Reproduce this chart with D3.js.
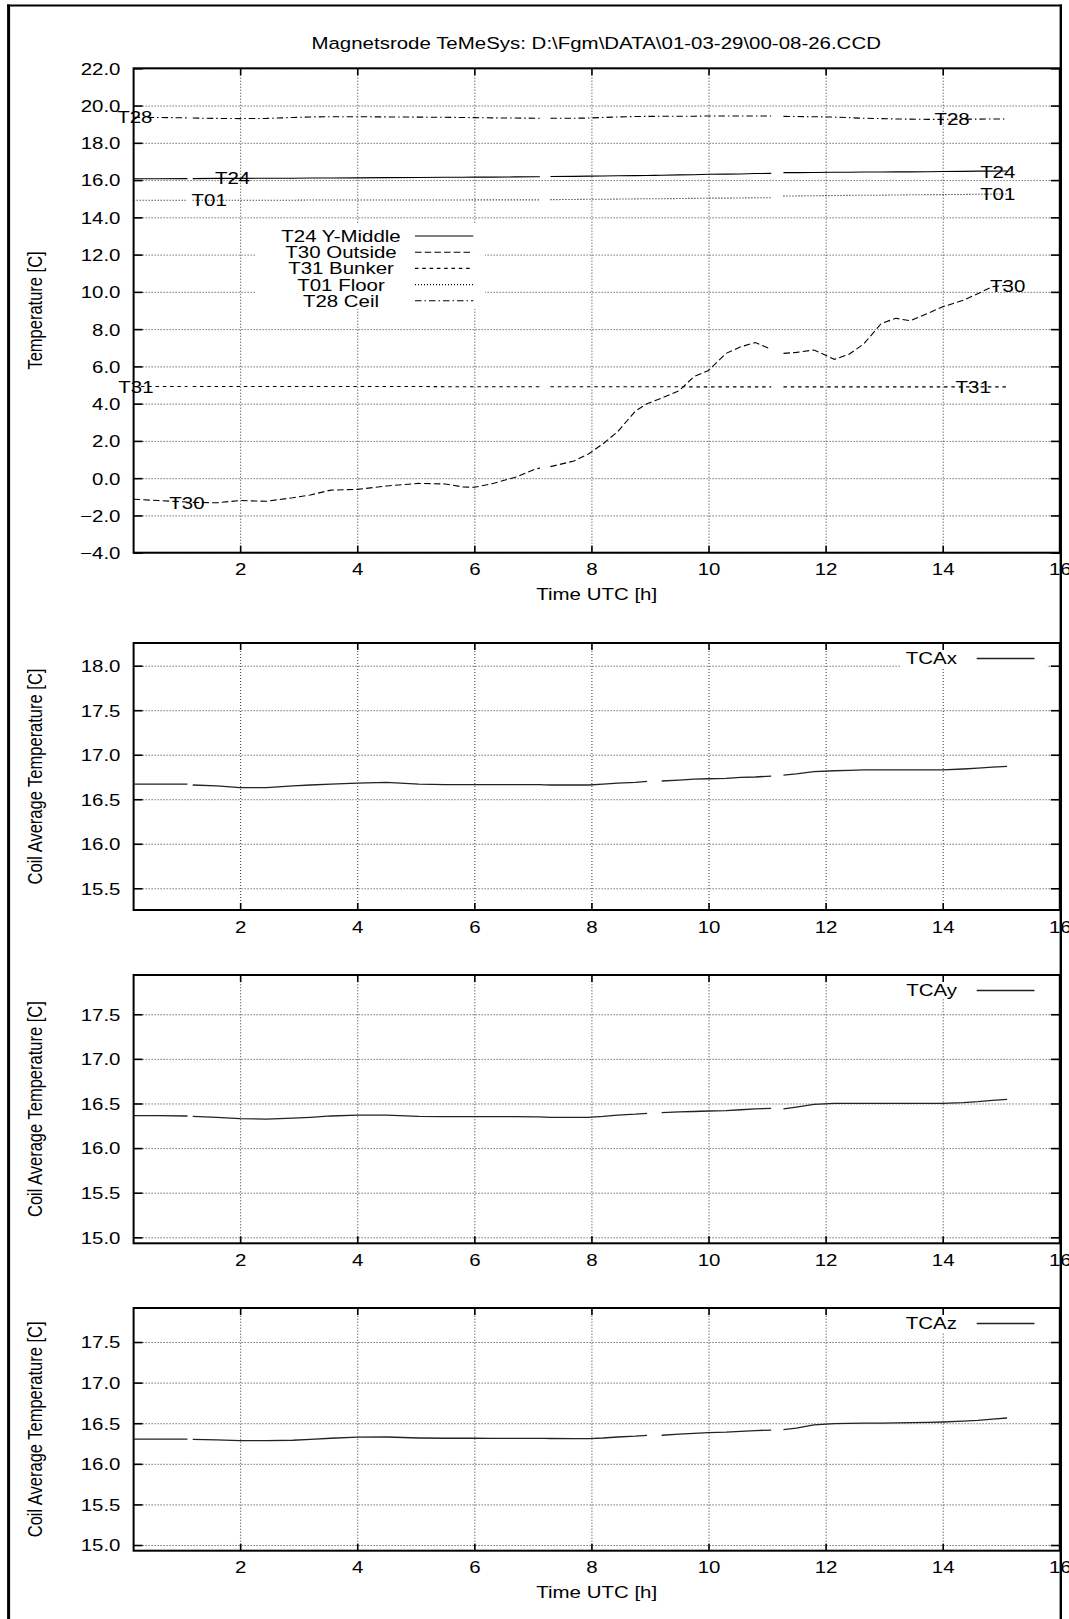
<!DOCTYPE html>
<html><head><meta charset="utf-8">
<script src="https://cdn.jsdelivr.net/npm/d3@7"></script>
<style>
html,body{margin:0;padding:0;background:#fff;}
svg{display:block;}
text{font-family:"Liberation Sans",Arial,Helvetica,sans-serif;font-size:16.5px;fill:#000;}
</style></head><body>
<svg id="chart" width="1069" height="1619"></svg>
<script>
// ---------------- data ----------------
const title = "Magnetsrode TeMeSys: D:\\Fgm\\DATA\\01-03-29\\00-08-26.CCD";
const xLabel = "Time UTC [h]";
const tempLabel = "Temperature [C]";
const coilLabel = "Coil Average Temperature [C]";

const hours = [0.18,0.6,1.1,1.15,1.19,1.6,2.0,2.45,2.9,3.2,3.55,4.0,4.5,5.05,5.5,5.8,6.0,6.3,6.7,7.05,7.12,7.2,7.3,7.7,7.95,8.2,8.45,8.75,8.95,9.08,9.2,9.5,9.75,10.0,10.3,10.55,10.8,11.07,11.18,11.28,11.5,11.8,12.15,12.4,12.65,12.95,13.2,13.45,13.75,14.0,14.35,14.6,14.85,15.1];

const T24 = [16.07,16.07,16.08,null,16.08,16.09,16.09,16.10,16.10,16.11,16.11,16.12,16.13,16.14,16.15,16.15,16.16,16.16,16.17,16.18,16.18,null,16.19,16.20,16.21,16.22,16.23,16.24,16.25,16.255,16.26,16.28,16.29,16.31,16.32,16.33,16.35,16.36,null,16.40,16.40,16.41,16.42,16.42,16.43,16.43,16.44,16.44,16.45,16.46,16.47,16.48,16.48,16.49];
const T30 = [-1.13,-1.20,-1.28,null,-1.30,-1.32,-1.20,-1.24,-1.05,-0.90,-0.64,-0.60,-0.42,-0.28,-0.31,-0.47,-0.49,-0.30,0.05,0.50,0.54,null,0.62,0.92,1.30,1.85,2.50,3.60,4.00,4.15,4.30,4.70,5.45,5.78,6.70,7.05,7.28,6.92,null,6.70,6.75,6.88,6.38,6.65,7.20,8.30,8.58,8.45,8.85,9.20,9.55,9.90,10.28,10.35];
const T31 = [4.92,4.92,4.92,null,4.92,4.92,4.92,4.92,4.92,4.92,4.92,4.92,4.92,4.92,4.91,4.91,4.91,4.91,4.91,4.91,4.91,null,4.91,4.91,4.91,4.91,4.91,4.91,4.91,4.91,4.91,4.91,4.90,4.90,4.90,4.90,4.90,4.90,null,4.90,4.90,4.90,4.90,4.90,4.90,4.90,4.90,4.90,4.90,4.90,4.90,4.90,4.90,4.90];
const T01 = [14.92,14.92,14.92,null,14.92,14.92,14.92,14.92,14.92,14.93,14.93,14.93,14.93,14.93,14.93,14.93,14.94,14.94,14.94,14.94,14.94,null,14.95,14.96,14.97,14.97,14.98,14.99,15.00,15.00,15.00,15.01,15.02,15.03,15.03,15.04,15.05,15.05,null,15.14,15.15,15.16,15.17,15.18,15.19,15.19,15.20,15.21,15.22,15.22,15.23,15.24,15.25,15.25];
const T28 = [19.37,19.36,19.34,null,19.33,19.31,19.30,19.31,19.36,19.39,19.40,19.40,19.39,19.38,19.37,19.36,19.35,19.34,19.33,19.32,19.32,null,19.32,19.32,19.33,19.36,19.39,19.41,19.42,19.42,19.43,19.43,19.43,19.44,19.44,19.44,19.44,19.44,null,19.42,19.41,19.40,19.38,19.35,19.32,19.30,19.28,19.27,19.26,19.26,19.27,19.27,19.28,19.28];

const TCAx = [16.67,16.67,16.67,null,16.66,16.65,16.63,16.63,16.65,16.66,16.67,16.68,16.69,16.67,16.665,16.665,16.665,16.665,16.665,16.665,16.665,16.662,16.66,16.66,16.66,16.67,16.68,16.69,16.70,null,16.705,16.715,16.725,16.73,16.735,16.745,16.75,16.76,null,16.77,16.785,16.81,16.82,16.825,16.83,16.83,16.83,16.83,16.83,16.83,16.84,16.85,16.86,16.87];
const TCAy = [16.363,16.363,16.36,null,16.355,16.345,16.33,16.325,16.335,16.345,16.36,16.37,16.37,16.355,16.352,16.352,16.352,16.352,16.352,16.35,16.35,16.348,16.345,16.345,16.345,16.355,16.37,16.38,16.39,null,16.397,16.405,16.41,16.416,16.42,16.43,16.44,16.446,null,16.44,16.46,16.49,16.502,16.502,16.502,16.502,16.502,16.502,16.502,16.502,16.51,16.52,16.535,16.547];
const TCAz = [16.305,16.305,16.305,null,16.30,16.295,16.285,16.285,16.29,16.30,16.315,16.328,16.33,16.318,16.315,16.315,16.315,16.314,16.314,16.314,16.314,16.313,16.312,16.31,16.31,16.318,16.33,16.34,16.35,null,16.352,16.365,16.375,16.383,16.39,16.40,16.41,16.416,null,16.42,16.44,16.48,16.495,16.498,16.50,16.50,16.505,16.508,16.51,16.515,16.525,16.535,16.55,16.564];

const xTicks = [2,4,6,8,10,12,14,16];
const tempTicks = [-4,-2,0,2,4,6,8,10,12,14,16,18,20,22];
const coilTicksX = [15.5,16.0,16.5,17.0,17.5,18.0];
const coilTicksYZ = [15.0,15.5,16.0,16.5,17.0,17.5];

const tempKeys = ["T24 Y-Middle","T30 Outside","T31 Bunker","T01 Floor","T28 Ceil"];
const lineLabels = [
  {text:"T28", t:0.20, v:19.40}, {text:"T28", t:14.16, v:19.26},
  {text:"T24", t:1.87, v:16.10}, {text:"T24", t:14.94, v:16.45},
  {text:"T01", t:1.47, v:14.93}, {text:"T01", t:14.94, v:15.25},
  {text:"T31", t:0.22, v:4.91},  {text:"T31", t:14.52, v:4.88},
  {text:"T30", t:1.09, v:-1.35}, {text:"T30", t:15.11, v:10.31}
];

// ---------------- drawing ----------------
const SX = 1.24;           // horizontal glyph stretch of the original
const CAP = 5.9;           // half cap height
const svg = d3.select("#chart");
const plotLeft = 133.6, plotRight = 1059.8;
const x = d3.scaleLinear().domain([0.18, 16]).range([plotLeft, plotRight]);

function txt(g, px, py, str, anchor) {
  return g.append("text")
    .attr("transform", `translate(${px},${py}) scale(${SX},1)`)
    .attr("text-anchor", anchor).text(str);
}
function vtxt(g, px, py, str) {
  return g.append("text")
    .attr("transform", `translate(${px},${py}) rotate(-90) scale(1,${SX})`)
    .attr("text-anchor", "middle").text(str);
}

const seriesSets = [
  [
    {name:tempKeys[0], vals:T24, dash:null},
    {name:tempKeys[1], vals:T30, dash:"6.5,3.2"},
    {name:tempKeys[2], vals:T31, dash:"3.5,3.8"},
    {name:tempKeys[3], vals:T01, dash:"1,2"},
    {name:tempKeys[4], vals:T28, dash:"6.5,3,1.5,3"}
  ],
  [{name:"TCAx", vals:TCAx, dash:null}],
  [{name:"TCAy", vals:TCAy, dash:null}],
  [{name:"TCAz", vals:TCAz, dash:null}]
];

const panels = [
  {top:68.3, bottom:552.7, domain:[-4,22], ticks:tempTicks, ylabel:tempLabel, xlabel:true, fmt:d3.format(".1f")},
  {top:643, bottom:910, domain:[15.256,18.255], ticks:coilTicksX, ylabel:coilLabel, xlabel:false, fmt:d3.format(".1f")},
  {top:975, bottom:1243.3, domain:[14.933,17.94], ticks:coilTicksYZ, ylabel:coilLabel, xlabel:false, fmt:d3.format(".1f")},
  {top:1308, bottom:1550.7, domain:[14.93,17.919], ticks:coilTicksYZ, ylabel:coilLabel, xlabel:true, fmt:d3.format(".1f")}
];

const W = plotRight - plotLeft;

panels.forEach((p, pi) => {
  const y = d3.scaleLinear().domain(p.domain).range([p.bottom, p.top]);
  const g = svg.append("g");
  const H = p.bottom - p.top;

  // grid
  const gridStyle = s => { s.select(".domain").remove();
    s.selectAll("line").attr("stroke", "#333").attr("stroke-width", 1).attr("stroke-dasharray", "1,2"); };
  g.append("g").attr("transform", `translate(${plotLeft},0)`)
    .call(d3.axisLeft(y).tickValues(p.ticks).tickSize(-W).tickFormat("")).call(gridStyle);
  g.append("g").attr("transform", `translate(0,${p.bottom})`)
    .call(d3.axisBottom(x).tickValues(xTicks).tickSize(-H).tickFormat("")).call(gridStyle);

  // key background box
  const series = seriesSets[pi];
  if (pi === 0) {
    g.append("rect").attr("x", 255).attr("y", 224).attr("width", 230).attr("height", 85).attr("fill", "#fff");
  } else {
    g.append("rect").attr("x", 900).attr("y", p.top + 1.5).attr("width", 146.7).attr("height", 22.5).attr("fill", "#fff");
  }

  // frame + inward ticks
  g.append("rect").attr("x", plotLeft).attr("y", p.top).attr("width", W).attr("height", H)
    .attr("fill", "none").attr("stroke", "#000").attr("stroke-width", 2);
  const tickStyle = s => { s.select(".domain").remove(); s.selectAll("line").attr("stroke", "#000").attr("stroke-width", 1.6); };
  g.append("g").attr("transform", `translate(${plotLeft},0)`).call(d3.axisLeft(y).tickValues(p.ticks).tickSize(-9).tickFormat("")).call(tickStyle);
  g.append("g").attr("transform", `translate(${plotRight},0)`).call(d3.axisRight(y).tickValues(p.ticks).tickSize(-9).tickFormat("")).call(tickStyle);
  g.append("g").attr("transform", `translate(0,${p.bottom})`).call(d3.axisBottom(x).tickValues(xTicks).tickSize(-7).tickFormat("")).call(tickStyle);
  g.append("g").attr("transform", `translate(0,${p.top})`).call(d3.axisTop(x).tickValues(xTicks).tickSize(-7).tickFormat("")).call(tickStyle);

  // tick labels
  g.append("g").attr("transform", `translate(${plotLeft},0)`)
    .call(d3.axisLeft(y).tickValues(p.ticks).tickSize(0).tickFormat(p.fmt))
    .call(s => { s.select(".domain").remove(); s.selectAll("line").remove();
      s.selectAll("text").attr("x", null).attr("dy", null).attr("text-anchor", "end")
        .attr("transform", `translate(-13.1,${CAP}) scale(${SX},1)`); });
  g.append("g").attr("transform", `translate(0,${p.bottom})`)
    .call(d3.axisBottom(x).tickValues(xTicks).tickSize(0).tickFormat(d3.format("d")))
    .call(s => { s.select(".domain").remove(); s.selectAll("line").remove();
      s.selectAll("text").attr("y", null).attr("dy", null).attr("text-anchor", "middle")
        .attr("transform", `translate(0,${16.6 + CAP}) scale(${SX},1)`); });

  // axis titles
  vtxt(g, 42, (p.top + p.bottom) / 2, p.ylabel);
  if (p.xlabel) txt(g, (plotLeft + plotRight) / 2, p.bottom + 47.4, xLabel, "middle");

  // data lines
  const line = d3.line().defined(d => d[1] !== null).x(d => x(d[0])).y(d => y(d[1]));
  series.forEach(sr => {
    const pts = hours.map((h, i) => [h, sr.vals[i]]);
    g.append("path").attr("d", line(pts)).attr("fill", "none")
      .attr("stroke", pi === 0 ? "#000" : "#222").attr("stroke-width", pi === 0 ? 1.1 : 1.3)
      .attr("stroke-dasharray", sr.dash);
  });

  // keys
  if (pi === 0) {
    series.forEach((sr, i) => {
      const ry = 236 + i * 16.2;
      txt(g, 341, ry + CAP, sr.name, "middle");
      g.append("line").attr("x1", 415).attr("x2", 473.3).attr("y1", ry).attr("y2", ry)
        .attr("stroke", "#000").attr("stroke-width", 1.1).attr("stroke-dasharray", sr.dash);
    });
    lineLabels.forEach(l => txt(g, x(l.t), y(l.v) + CAP, l.text, "middle"));
  } else {
    const ry = p.top + 15.5;
    txt(g, 957, ry + CAP, series[0].name, "end");
    g.append("line").attr("x1", 976.7).attr("x2", 1034.5).attr("y1", ry).attr("y2", ry)
      .attr("stroke", "#222").attr("stroke-width", 1.3);
  }
});

// title
txt(svg, 596.2, 49.3, title, "middle");

// outer frame
svg.append("line").attr("x1", 8.6).attr("x2", 8.6).attr("y1", 4.5).attr("y2", 1619).attr("stroke", "#000").attr("stroke-width", 3);
svg.append("line").attr("x1", 7).attr("x2", 1062).attr("y1", 5.5).attr("y2", 5.5).attr("stroke", "#000").attr("stroke-width", 2);
svg.append("line").attr("x1", 1060.8).attr("x2", 1060.8).attr("y1", 4.5).attr("y2", 1619).attr("stroke", "#000").attr("stroke-width", 2.4);
</script>
</body></html>
